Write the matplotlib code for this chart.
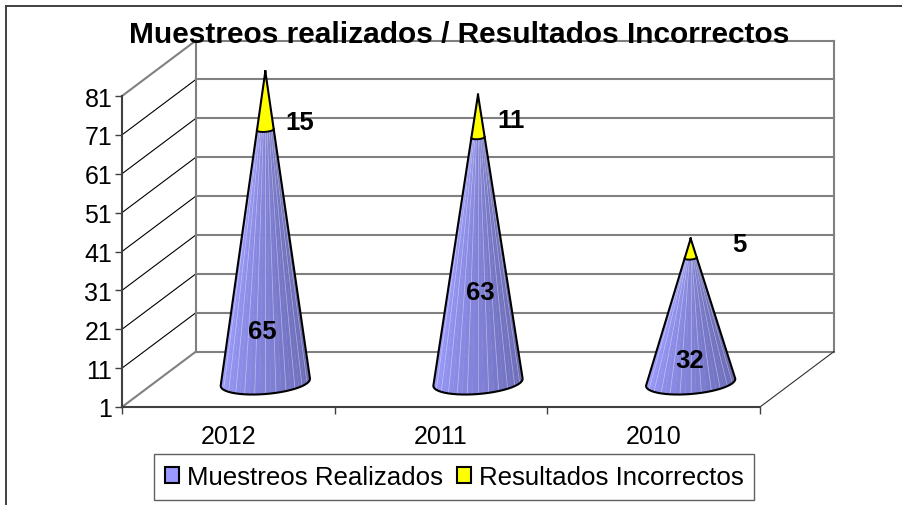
import numpy as np
import matplotlib
matplotlib.use('Agg')
import matplotlib.pyplot as plt
from matplotlib.lines import Line2D
from matplotlib.patches import Patch

plt.rcParams['font.family'] = ['Liberation Sans', 'DejaVu Sans']

# Datos
years = ['2012', '2011', '2010']
muestreos = [65, 63, 32]
incorrectos = [15, 11, 5]
y_ticks = [1, 11, 21, 31, 41, 51, 61, 71, 81]

W, H = 903, 506
BLUE = '#9999ff'
YELLOW = '#ffff00'
GRAY = '#808080'

# posicion de las etiquetas en pixeles
label_blue_px = [(262, 332), (480, 293), (690, 361)]
label_yellow_px = [(300, 123), (511, 121), (739, 245)]

fig = plt.figure(figsize=(W / 100, H / 100), dpi=100)
ax = fig.add_axes([122 / W, 1 - 408 / H, 638 / W, 311 / H])
ax.patch.set_visible(False)
ax.set_xlim(0, 3)
ax.set_ylim(1, 81)

# profundidad de la caja 3D en unidades de datos
dx = 74 / (638 / 3)
dy = 55.5 / (311 / 80)


def fig_xy(px, py):
    return px / W, 1 - py / H


# paredes y suelo
for v in y_ticks:
    ax.plot([dx, 3 + dx], [v + dy, v + dy], color=GRAY, lw=1.5, clip_on=False, zorder=1)
    edge = v in (y_ticks[0], y_ticks[-1])
    ax.plot([0, dx], [v, v + dy], color=GRAY if edge else 'black', lw=1.5 if edge else 0.8,
            clip_on=False, zorder=1)
ax.plot([dx, dx], [1 + dy, 81 + dy], color=GRAY, lw=1.5, clip_on=False, zorder=1)
ax.plot([3 + dx, 3 + dx], [1 + dy, 81 + dy], color=GRAY, lw=1.5, clip_on=False, zorder=1)
ax.plot([3, 3 + dx], [1, 1 + dy], color='#303030', lw=0.8, clip_on=False, zorder=1)

# conos apilados
hw = 0.21
hh = 3.0
tilt = 0.9
n = 26
t = np.linspace(np.pi, 2 * np.pi, n + 1)
shade_left = np.array([0x9c, 0x9c, 0xff]) / 255
shade_right = np.array([0x66, 0x66, 0xb0]) / 255

for i in range(len(years)):
    cx = i + 0.5 + dx / 2
    base = 1 + dy / 2 - 0.8
    total = muestreos[i] + incorrectos[i]
    apex = (cx, base + total)
    bx = cx + hw * np.cos(t)
    by = base + hh * np.sin(t) + tilt * np.cos(t)
    s = incorrectos[i] / total
    mx = apex[0] + (bx - apex[0]) * s
    my = apex[1] + (by - apex[1]) * s

    for k in range(n):
        f = k / (n - 1)
        c = shade_left * (1 - f) + shade_right * f
        ax.fill([bx[k], bx[k + 1], mx[k + 1], mx[k]], [by[k], by[k + 1], my[k + 1], my[k]],
                color=c, lw=0.3, clip_on=False, zorder=2)
        if k % 2 == 1:
            ax.plot([bx[k], mx[k]], [by[k], my[k]], color='white', alpha=0.35, lw=0.6,
                    clip_on=False, zorder=3)
    ax.fill([apex[0], *mx], [apex[1], *my], color=YELLOW, lw=0, clip_on=False, zorder=3)
    ax.plot(mx, my, color='black', lw=1.4, clip_on=False, zorder=4)
    ax.plot([apex[0], bx[0], *bx, apex[0]], [apex[1], by[0], *by, apex[1]], color='black', lw=1.5,
            solid_joinstyle='round', clip_on=False, zorder=4)

    fig.text(*fig_xy(*label_blue_px[i]), str(muestreos[i]), ha='center', va='center',
             fontsize=18.5, fontweight='bold', zorder=6)
    fig.text(*fig_xy(*label_yellow_px[i]), str(incorrectos[i]), ha='center', va='center',
             fontsize=18.5, fontweight='bold', zorder=6)

# ejes
for side in ('top', 'right'):
    ax.spines[side].set_visible(False)
for side in ('left', 'bottom'):
    ax.spines[side].set_color('#404040')
    ax.spines[side].set_linewidth(1.5)
    ax.spines[side].set_zorder(5)
ax.set_yticks(y_ticks)
ax.set_xticks([0, 1, 2, 3])
ax.set_xticklabels([])
ax.set_xticks([0.5, 1.5, 2.5], minor=True)
ax.set_xticklabels(years, minor=True)
ax.tick_params(axis='x', which='minor', length=0, pad=12, labelsize=18)
ax.tick_params(axis='both', which='major', length=5, width=1, color='#404040', labelsize=18, pad=2)

# titulo y borde
fig.text(*fig_xy(459, 35), 'Muestreos realizados / Resultados Incorrectos', ha='center', va='center',
         fontsize=21.5, fontweight='bold', zorder=7)
fig.add_artist(Line2D([5.5 / W, 5.5 / W], [0, 1 - 6.5 / H], color='#404040', lw=1.4))
fig.add_artist(Line2D([5.5 / W, 1], [1 - 6.5 / H, 1 - 6.5 / H], color='#404040', lw=1.4))

# leyenda
handles = [Patch(facecolor=BLUE, edgecolor='black', lw=1.5), Patch(facecolor=YELLOW, edgecolor='black', lw=1.5)]
fig.legend(handles, ['Muestreos Realizados', 'Resultados Incorrectos'], ncol=2, loc='center',
           bbox_to_anchor=fig_xy(454, 478), fontsize=18.6, fancybox=False, framealpha=1,
           edgecolor='#606060', handlelength=0.55, handleheight=0.55, handletextpad=0.3,
           columnspacing=0.55, borderpad=0.42, borderaxespad=0)

fig.savefig('out.png', dpi=100)
